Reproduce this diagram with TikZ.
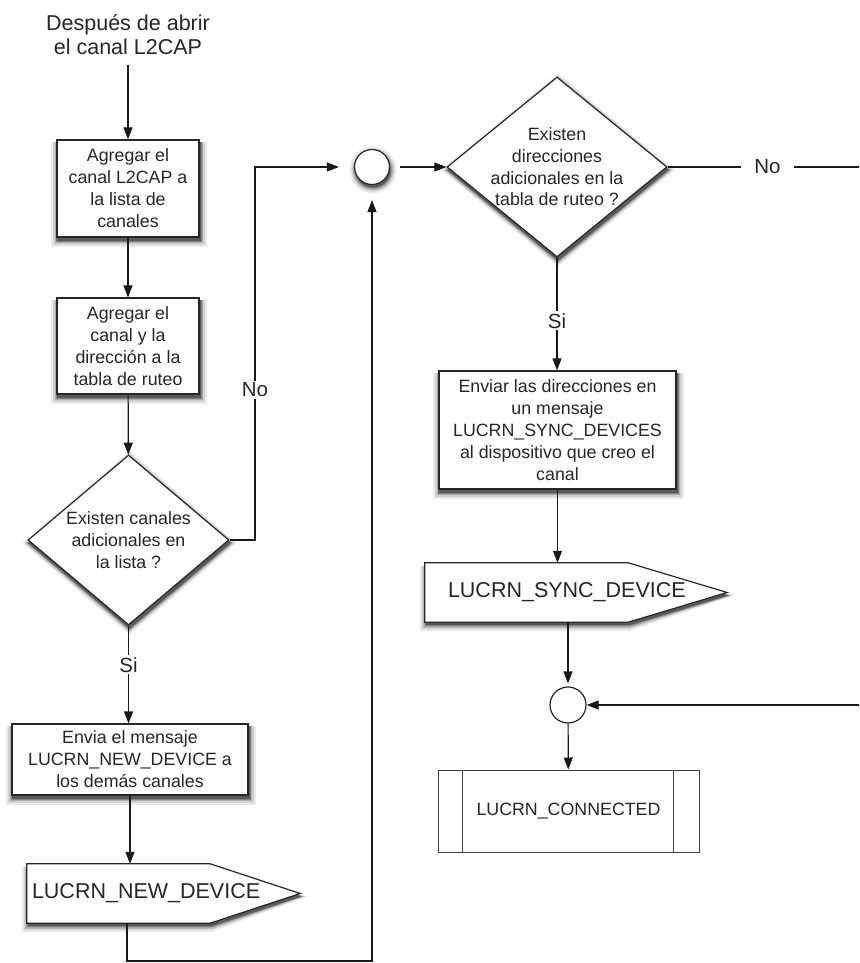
\documentclass[tikz,border=0pt]{standalone}
\usepackage{fontspec}
\setmainfont{Liberation Sans}
\usetikzlibrary{arrows.meta,shapes.geometric,backgrounds}

\tikzset{
  boxbase/.style={rectangle,draw=black!85,line width=1.2pt,fill=white,
                  align=center,text=black!85,inner sep=0pt,
                  font=\fontsize{17.8pt}{22pt}\selectfont},
  box/.style={boxbase},
  decision/.style={diamond,draw=black!85,line width=1.2pt,fill=white,
                   inner sep=0pt},
  dtext/.style={align=center,text=black!85,
                font=\fontsize{17.8pt}{21.7pt}\selectfont},
  junction/.style={circle,draw=black!85,line width=1.2pt,fill=white,
                   minimum size=35pt,inner sep=0pt},
  msg/.style={draw=none,inner ysep=0pt,align=left,minimum height=59pt,
              text=black!85,font=\fontsize{21.5pt}{24pt}\selectfont},
  pent/.style={draw=black!85,line width=1.2pt,fill=white},
  arr/.style={line width=1.2pt,draw=black!90,
              -{Triangle[length=12pt,width=9pt]}},
  lbl/.style={fill=white,inner sep=2pt,text=black!85,
              font=\fontsize{20.5pt}{24pt}\selectfont}
}

\begin{document}
\begin{tikzpicture}[x=1pt,y=-1pt]
  \useasboundingbox (0,0) rectangle (859,963);
  \clip (0,0) rectangle (859,963);

  \node[align=center,text=black!85,
        font=\fontsize{21.5pt}{24pt}\selectfont]
        (start) at (128,35) {Después de abrir\\el canal L2CAP};
  \node[box,minimum width=142pt,minimum height=97pt]
        (b1) at (128,188.5) {Agregar el\\canal L2CAP a\\la lista de\\canales};
  \node[box,minimum width=142pt,minimum height=96pt]
        (b2) at (128,346) {Agregar el\\canal y la\\dirección a la\\tabla de ruteo};
  \node[decision,minimum width=201pt,minimum height=170pt,
        label={[dtext]center:{Existen canales\\adicionales en\\la lista ?}}]
        (d1) at (128.5,540) {};
  \node[box,minimum width=236pt,minimum height=71pt]
        (b4) at (130,759.5) {Envia el mensaje\\LUCRN\_NEW\_DEVICE a\\los demás canales};
  \node[msg,inner xsep=5pt,text width=263pt]
        (p1) at (163.5,893.5) {LUCRN\_NEW\_DEVICE};

  \node[junction] (c1) at (372,167) {};
  \node[decision,minimum width=220pt,minimum height=180pt,
        label={[dtext]center:{Existen\\direcciones\\adicionales en la\\tabla de ruteo ?}}]
        (d2) at (557,167) {};
  \node[box,minimum width=237pt,minimum height=118pt]
        (b3) at (557.5,430) {Enviar las direcciones en\\un mensaje\\LUCRN\_SYNC\_DEVICES\\al dispositivo que creo el\\canal};
  \node[msg,inner xsep=23pt,text width=256pt]
        (p2) at (576,592.5) {LUCRN\_SYNC\_DEVICE};
  \node[junction,minimum size=36pt] (c2) at (568,705) {};
  \node[boxbase,draw=black!75,line width=1pt,
        minimum width=261pt,minimum height=82pt]
        (cn) at (568.5,811) {LUCRN\_CONNECTED};
  \draw[black!75,line width=1pt]
    ([xshift=25pt]cn.north west) -- ([xshift=25pt]cn.south west)
    ([xshift=-26pt]cn.north east) -- ([xshift=-26pt]cn.south east);

  % soft shadows, then the two message shapes
  \begin{scope}[on background layer]
    \foreach \g/\s in {8/6,18/4,32/2.5,50/1,65/0}{
      \foreach \n in {b1,b2,b3,b4}
        \fill[black!\g] ([shift={(1pt-\s pt,-3pt-\s pt)}]\n.south west)
          rectangle ([shift={(1pt+\s pt,-3pt)}]\n.north east);
      \foreach \n in {d1,d2}
        \fill[black!\g] ([shift={(1pt,-3pt+\s pt)}]\n.north)
          -- ([shift={(1pt+\s pt,-3pt)}]\n.east)
          -- ([shift={(1pt,-3pt-\s pt)}]\n.south)
          -- ([shift={(1pt-\s pt,-3pt)}]\n.west) -- cycle;
      \fill[black!\g] ([shift={(1pt,-3pt)}]c1.center) circle[radius=17.5pt+\s pt];
      \foreach \p/\d in {p1/90,p2/99}
        \fill[black!\g] ([shift={(1pt-\s pt,-3pt-\s pt)}]\p.south west)
          -- ([shift={(1pt-\s pt,-3pt)}]\p.north west)
          -- ([shift={(1pt-\d pt,-3pt)}]\p.north east)
          -- ([shift={(1pt+\s pt,-3pt)}]\p.east)
          -- ([shift={(1pt-\d pt,-3pt-\s pt)}]\p.south east) -- cycle;
    }
    \foreach \p/\d in {p1/90,p2/99}
      \filldraw[pent] (\p.north west) -- ([xshift=-\d pt]\p.north east)
        -- (\p.east) -- ([xshift=-\d pt]\p.south east)
        -- (\p.south west) -- cycle;
  \end{scope}

  \coordinate (nol) at (255,390);
  \coordinate (lp) at (127,961);
  \coordinate (rt) at (880,167);

  \draw[arr,shorten <=6pt] (start) -- (b1);
  \draw[arr] (b1) -- (b2);
  \draw[arr] (b2) -- (d1);
  \draw[arr] (d1.south) -- node[lbl,pos=.4]{Si} (d1.south |- b4.north);
  \draw[arr] (b4.south) -- (b4.south |- p1.north);
  \draw[arr,shorten >=15pt] (d1.east) -| (nol) node[lbl]{No} |- (c1);
  \draw[arr,shorten >=15pt] (p1.south -| lp) -- (lp) -| (c1);
  \draw[arr,shorten <=10pt] (c1) -- (d2);
  \draw[arr] (d2.south) -- node[lbl,pos=.56]{Si} (d2.south |- b3.north);
  \draw[arr] (d2.east) -- node[lbl,inner xsep=13pt,pos=.47]{No} (rt) |- (c2);
  \draw[arr] (b3.south) -- (b3.south |- p2.north);
  \draw[arr,shorten >=3pt] (c2 |- p2.south) -- (c2);
  \draw[arr] (c2) -- (cn);
\end{tikzpicture}
\end{document}
